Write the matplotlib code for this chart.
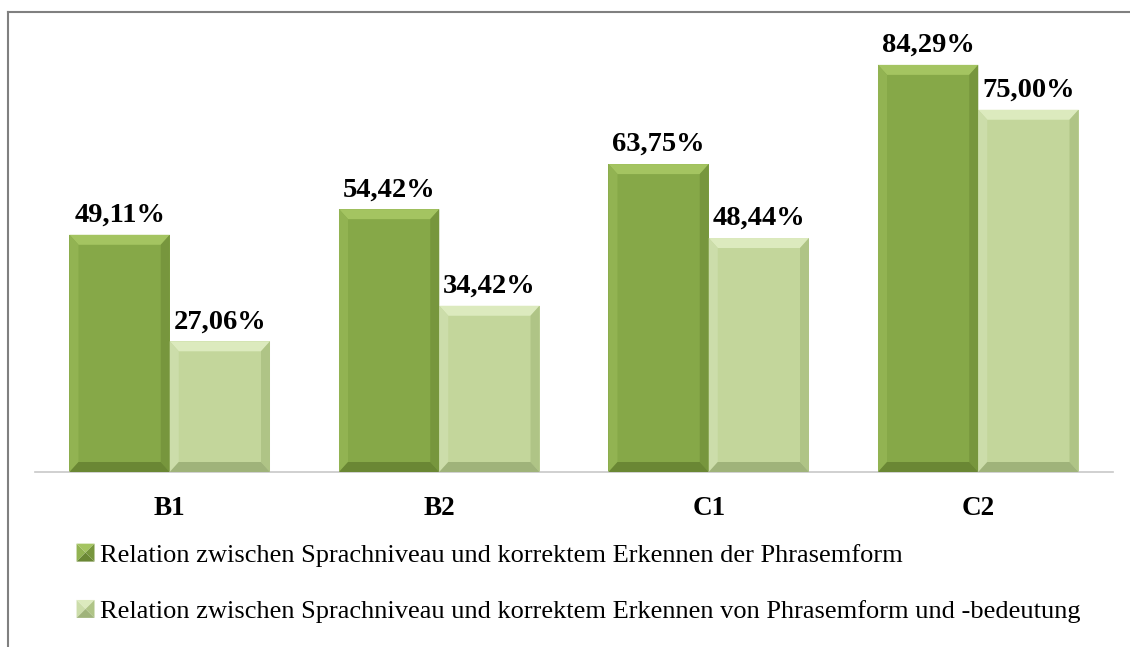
import matplotlib.pyplot as plt
from matplotlib.patches import Polygon, Rectangle
from matplotlib.lines import Line2D
from matplotlib.legend_handler import HandlerBase
import numpy as np

# Data
categories = ["B1", "B2", "C1", "C2"]
form_only = [49.11, 54.42, 63.75, 84.29]
form_and_meaning = [27.06, 34.42, 48.44, 75.00]
series_names = [
    "Relation zwischen Sprachniveau und korrektem Erkennen der Phrasemform",
    "Relation zwischen Sprachniveau und korrektem Erkennen von Phrasemform und -bedeutung",
]

# face, top, left, right, bottom shades
dark_shades = ["#86A848", "#A4C461", "#92B352", "#77963D", "#6A8734"]
light_shades = ["#C3D69B", "#DCEABE", "#CCDDAA", "#AFC486", "#9FB37A"]

plt.rcParams["font.family"] = ["Liberation Serif", "DejaVu Serif"]

fig = plt.figure(figsize=(11.3, 6.47), dpi=100)
ax = fig.add_axes([35 / 1130, 1 - 472 / 647, 1078 / 1130, 434.7 / 647])

x = np.arange(len(categories))
width = 0.372
ax.set_xlim(-0.5, 3.5)
ax.set_ylim(0, 90)

# bevel size in pixels converted to data units
bx = 9 / 269.5
by = 10 / 4.83


def bevel_bar(x0, h, w, shades):
    face, top, left, right, bottom = shades
    x1 = x0 + w
    ax.add_patch(Rectangle((x0, 0), w, h, facecolor=face, edgecolor="none", zorder=2))
    ax.add_patch(Polygon([(x0, h), (x1, h), (x1 - bx, h - by), (x0 + bx, h - by)],
                         facecolor=top, edgecolor="none", zorder=3))
    ax.add_patch(Polygon([(x0, 0), (x0, h), (x0 + bx, h - by), (x0 + bx, by)],
                         facecolor=left, edgecolor="none", zorder=3))
    ax.add_patch(Polygon([(x1, 0), (x1, h), (x1 - bx, h - by), (x1 - bx, by)],
                         facecolor=right, edgecolor="none", zorder=3))
    ax.add_patch(Polygon([(x0, 0), (x1, 0), (x1 - bx, by), (x0 + bx, by)],
                         facecolor=bottom, edgecolor="none", zorder=3))


for i in range(len(categories)):
    bevel_bar(x[i] - width, form_only[i], width, dark_shades)
    bevel_bar(x[i], form_and_meaning[i], width, light_shades)
    for xc, v in [(x[i] - width / 2, form_only[i]), (x[i] + width / 2, form_and_meaning[i])]:
        ax.annotate(f"{v:.2f}%".replace(".", ","), (xc, v), xytext=(0, 5),
                    textcoords="offset points", ha="center", va="bottom",
                    fontsize=20.5, fontweight="bold", color="#000000")

ax.set_xticks(x)
ax.set_xticklabels(categories, fontsize=19.5, fontweight="bold")
ax.tick_params(axis="x", length=0, pad=17)
ax.set_yticks([])
for s in ["top", "right", "left"]:
    ax.spines[s].set_visible(False)
ax.spines["bottom"].set_color("#C8C8C8")
ax.spines["bottom"].set_linewidth(1.2)


class PyramidHandler(HandlerBase):
    def __init__(self, shades):
        super().__init__()
        self.shades = shades

    def create_artists(self, legend, orig_handle, xdescent, ydescent, width, height, fontsize, trans):
        face, top, left, right, bottom = self.shades
        s = min(width, height)
        x0, y0 = -xdescent + (width - s) / 2, -ydescent + (height - s) / 2
        cx, cy = x0 + s / 2, y0 + s / 2
        pts = [(x0, y0), (x0 + s, y0), (x0 + s, y0 + s), (x0, y0 + s)]
        arts = []
        for (a, b), c in zip([(3, 2), (0, 3), (1, 2), (0, 1)], [top, left, right, bottom]):
            p = Polygon([pts[a], pts[b], (cx, cy)], facecolor=c, edgecolor="none", transform=trans)
            arts.append(p)
        return arts


h1 = Rectangle((0, 0), 1, 1)
h2 = Rectangle((0, 0), 1, 1)
fig.legend([h1, h2], series_names, loc="upper left",
           bbox_to_anchor=(66 / 1130, 1 - 533 / 647), frameon=False,
           fontsize=19, handlelength=0.68, handleheight=0.68, handletextpad=0.2,
           labelspacing=1.25, borderaxespad=0,
           handler_map={h1: PyramidHandler(dark_shades), h2: PyramidHandler(light_shades)})

# outer frame (left and top edges)
fig.add_artist(Line2D([8 / 1130, 8 / 1130], [0, 1 - 12 / 647], color="#808080", lw=1.5))
fig.add_artist(Line2D([8 / 1130, 1], [1 - 12 / 647, 1 - 12 / 647], color="#808080", lw=1.5))

fig.savefig("out.png", dpi=100)
